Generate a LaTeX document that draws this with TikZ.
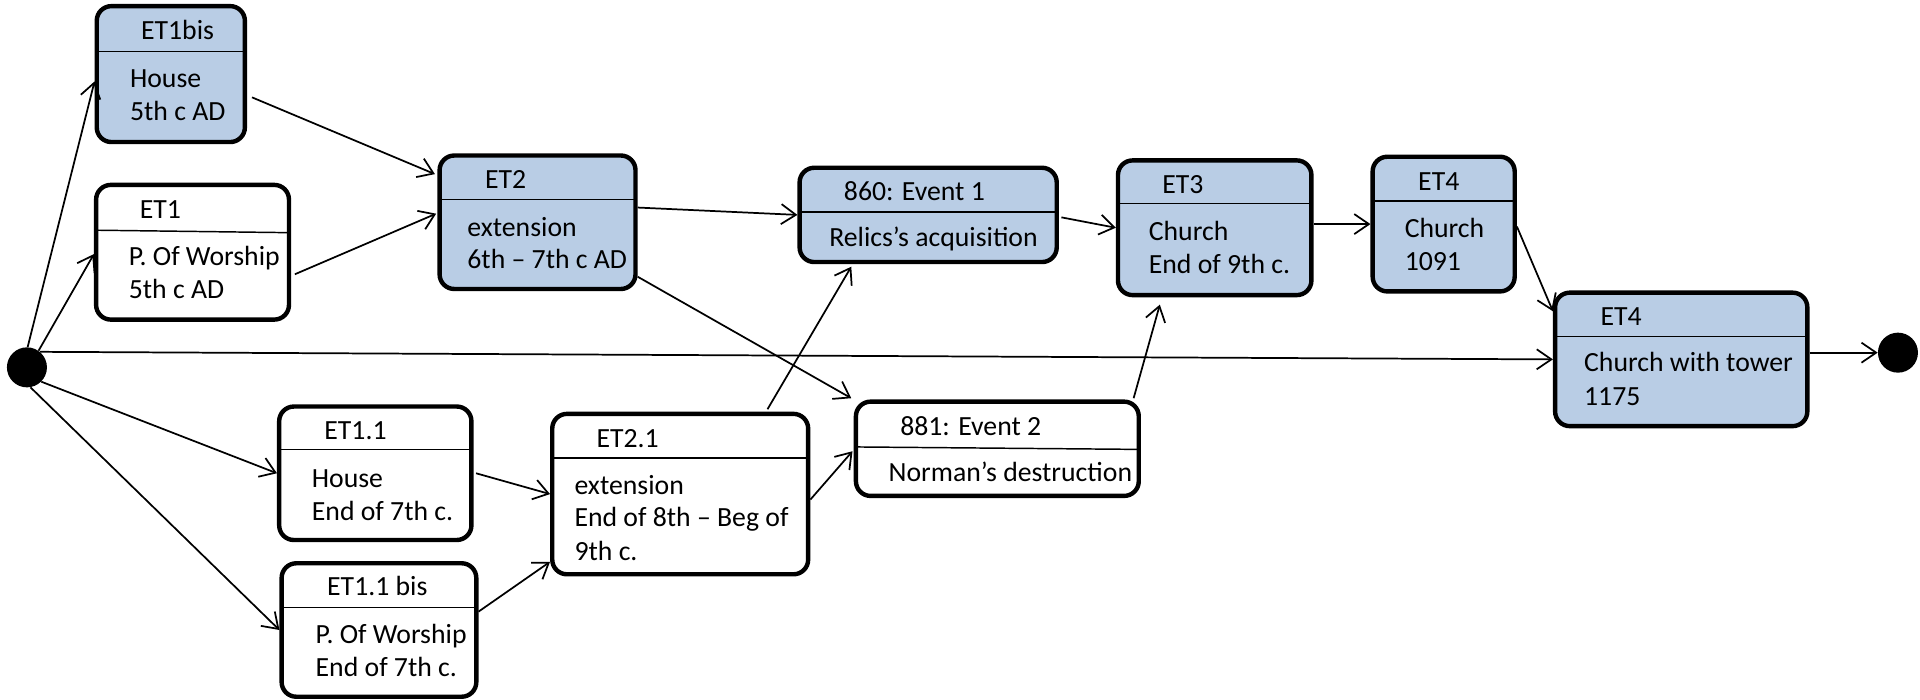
\documentclass[tikz,border=0pt]{standalone}
\usepackage{fontspec}
\setmainfont{Carlito}
\usetikzlibrary{arrows.meta,calc,fit}
\definecolor{stfill}{RGB}{185,205,229}
\tikzset{
  stbox/.style={draw, line width=3.3pt, rounded corners=11pt, inner sep=0pt},
  divider/.style={line width=1.1pt},
  conn/.style={line width=1.3pt, -{Straight Barb[length=11pt,width=15pt,line width=1.3pt]}},
  lbl/.style={anchor=base west, inner sep=0pt, font=\fontsize{20.8pt}{24.7pt}\selectfont},
  dot/.style={circle, fill=black, minimum size=30pt, inner sep=0pt}
}
\begin{document}
\begin{tikzpicture}[x=0.918pt,y=-0.918pt]
\useasboundingbox (0,0) rectangle (1568,571);
% pseudo states
\node[dot] (start) at (22,300) {};
\node[dot] (fin) at (1550,288) {};
% state boxes
\node[stbox, fill=stfill, fit={(79,5) (200,116)}] (ET1bis) {};
\draw[divider] (79,42) -- (200,42);
\node[stbox, fill=white, fit={(78.5,151) (236,261)}] (ET1) {};
\draw[divider] (78.5,188) -- (236,190);
\node[stbox, fill=stfill, fit={(359,127) (519,236)}] (ET2) {};
\draw[divider] (359,163) -- (519,163);
\node[stbox, fill=stfill, fit={(653,137) (863,214)}] (EV1) {};
\draw[divider] (653,173) -- (863,173);
\node[stbox, fill=stfill, fit={(913,131) (1071,241)}] (ET3) {};
\draw[divider] (913,166) -- (1071,166);
\node[stbox, fill=stfill, fit={(1121,128) (1237,238)}] (ET4a) {};
\draw[divider] (1121,164) -- (1237,164);
\node[stbox, fill=stfill, fit={(1270,239) (1476,348)}] (ET4b) {};
\draw[divider] (1270,275) -- (1476,275);
\node[stbox, fill=white, fit={(228,332) (385,441)}] (ET11) {};
\draw[divider] (228,367) -- (385,367);
\node[stbox, fill=white, fit={(230,460) (389,569)}] (ET11b) {};
\draw[divider] (230,496) -- (389,496);
\node[stbox, fill=white, fit={(451,338) (660,469)}] (ET21) {};
\draw[divider] (451,374) -- (660,374);
\node[stbox, fill=white, fit={(699,328) (930,405)}] (EV2) {};
\draw[divider] (699,365) -- (930,367);
% texts
\node[lbl] (ET1bis-t) at (115,32) {ET1bis};
\node[lbl] (ET1bis-a) at (106,71.5) {House};
\node[lbl] (ET1bis-b) at (106,98.7) {5th c AD};
\node[lbl] (ET1-t) at (114,178.5) {ET1};
\node[lbl] (ET1-a) at (105,217) {P. Of Worship};
\node[lbl] (ET1-b) at (105,244) {5th c AD};
\node[lbl] (ET2-t) at (396,154) {ET2};
\node[lbl] (ET2-a) at (381.5,193.4) {extension};
\node[lbl] (ET2-b) at (381.5,219.3) {6th – 7th c AD};
\node[lbl] (EV1-t) at (689,163.5) {860: Event 1};
\node[lbl] (EV1-a) at (677,201.6) {Relics’s acquisition};
\node[lbl] (ET3-t) at (949,158) {ET3};
\node[lbl] (ET3-a) at (938,196.2) {Church};
\node[lbl] (ET3-b) at (938,223.4) {End of 9th c.};
\node[lbl] (ET4a-t) at (1158,155.4) {ET4};
\node[lbl] (ET4a-a) at (1147,194.3) {Church};
\node[lbl] (ET4a-b) at (1147,220.7) {1091};
\node[lbl] (ET4b-t) at (1307,265.6) {ET4};
\node[lbl] (ET4b-a) at (1293.5,303.7) {Church with tower};
\node[lbl] (ET4b-b) at (1293.5,331) {1175};
\node[lbl] (ET11-t) at (264.7,358.7) {ET1.1};
\node[lbl] (ET11-a) at (254.5,398) {House};
\node[lbl] (ET11-b) at (254.5,424.9) {End of 7th c.};
\node[lbl] (ET11b-t) at (267,486.7) {ET1.1 bis};
\node[lbl] (ET11b-a) at (257.6,525.6) {P. Of Worship};
\node[lbl] (ET11b-b) at (257.6,552.8) {End of 7th c.};
\node[lbl] (ET21-t) at (487,365.8) {ET2.1};
\node[lbl] (ET21-a) at (469,403.9) {extension};
\node[lbl] (ET21-b) at (469,430.3) {End of 8th – Beg of};
\node[lbl] (ET21-c) at (469,457.5) {9th c.};
\node[lbl] (EV2-t) at (735,355.5) {881: Event 2};
\node[lbl] (EV2-a) at (725.5,393.5) {Norman’s destruction};
% transitions
\draw[conn] (start.88) -- ($(ET1bis.west)+(0,6)$);
\draw[conn] (start.55) -- ($(ET1.west)+(0,1.5)$);
\draw[conn] (start.50) -- (ET4b.west);
\draw[conn] (start.-45) -- (ET11.west);
\draw[conn] (start.-80) -- (ET11b.west);
\draw[conn] ($(ET1bis.east)+(4,19)$) -- ($(ET2.north west)+(-2,17)$);
\draw[conn] ($(ET1.east)+(3,18)$) -- ($(ET2.west)+(-1,-7)$);
\draw[conn] ($(ET2.east)+(0,-12)$) -- (EV1.west);
\draw[conn] ($(ET2.east)+(0,44.5)$) -- ($(EV2.north west)+(-2,-1)$);
\draw[conn] ($(ET11.east)+(2,0)$) -- (ET21.west);
\draw[conn] ($(ET11b.east)+(0,-15)$) -- ($(ET21.south west)+(0,-12)$);
\draw[conn] ($(ET21.north east)+(-35,-2)$) -- ($(EV1.south west)+(44,2)$);
\draw[conn] ($(ET21.east)+(0,4.5)$) -- ($(EV2.west)+(-1,2)$);
\draw[conn] ($(EV1.east)+(2,2)$) -- (ET3.west);
\draw[conn] ($(EV2.north east)+(-6,-1)$) -- ($(ET3.south west)+(36,6)$);
\draw[conn] (ET3.east |- ET4a.west) -- (ET4a.west);
\draw[conn] ($(ET4a.east)+(0,2)$) -- ($(ET4b.north west)+(0,17)$);
\draw[conn] (ET4b.east |- fin.west) -- (fin.west);
\end{tikzpicture}
\end{document}
